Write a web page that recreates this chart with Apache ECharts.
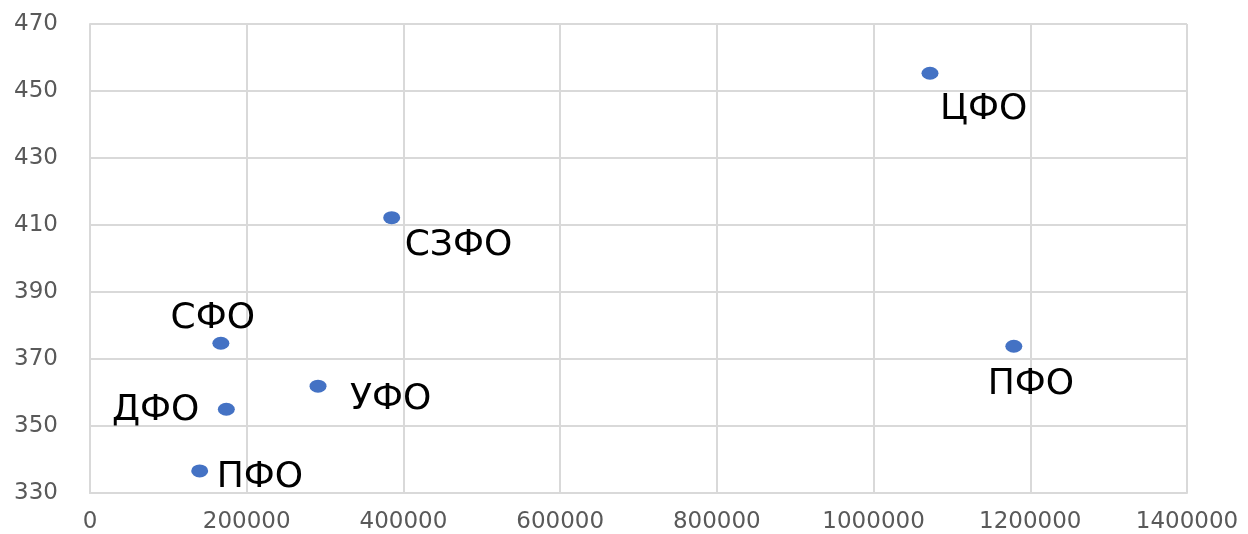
<!DOCTYPE html>
<html>
<head>
<meta charset="utf-8">
<script src="https://cdn.jsdelivr.net/npm/echarts@6/dist/echarts.min.js"></script>
<style>
html,body{margin:0;padding:0;background:#fff;}
#chart{width:1248px;height:534px;}
</style>
</head>
<body>
<div id="chart"></div>
<script>
// Data
const regionNames = ['ЦФО', 'СЗФО', 'СФО', 'ДФО', 'УФО', 'ПФО', 'ПФО'];
const xValues = [1072000, 385000, 167000, 174000, 291000, 140000, 1179000];
const yValues = [455.3, 412.2, 374.7, 355.0, 361.9, 336.6, 373.8];
const xTicks = [0, 200000, 400000, 600000, 800000, 1000000, 1200000, 1400000];
const yTicks = [330, 350, 370, 390, 410, 430, 450, 470];

// Label layout (presentation only)
const labelLayout = [
  {align: 'left', offset: [10, 36]},
  {align: 'left', offset: [13, 28]},
  {align: 'center', offset: [-8, -25]},
  {align: 'right', offset: [-27, 1]},
  {align: 'left', offset: [32, 14]},
  {align: 'left', offset: [17, 7]},
  {align: 'center', offset: [17, 38]}
];

const labelStyle = {color: '#000000', fontFamily: 'DejaVu Sans', fontSize: 36};

const points = regionNames.map((n, i) => ({
  name: n,
  value: [xValues[i], yValues[i]],
  label: Object.assign({
    show: true,
    position: 'inside',
    align: labelLayout[i].align,
    verticalAlign: 'middle',
    offset: labelLayout[i].offset,
    formatter: '{b}'
  }, labelStyle)
}));

const chart = echarts.init(document.getElementById('chart'), null, {renderer: 'canvas'});
const axisLabelStyle = {color: '#595959', fontFamily: 'DejaVu Sans', fontSize: 23};
chart.setOption({
  animation: false,
  backgroundColor: '#ffffff',
  grid: {left: 90, top: 24, right: 61, bottom: 40, containLabel: false},
  xAxis: {
    type: 'value',
    min: xTicks[0], max: xTicks[xTicks.length - 1], interval: xTicks[1] - xTicks[0],
    axisLine: {show: true, lineStyle: {color: '#d9d9d9', width: 2}},
    axisTick: {show: false},
    splitLine: {show: true, lineStyle: {color: '#d9d9d9', width: 2}},
    axisLabel: Object.assign({margin: 18, showMinLabel: true, showMaxLabel: true,
      formatter: v => String(v)}, axisLabelStyle)
  },
  yAxis: {
    type: 'value',
    min: yTicks[0], max: yTicks[yTicks.length - 1], interval: yTicks[1] - yTicks[0],
    axisLine: {show: true, lineStyle: {color: '#d9d9d9', width: 2}},
    axisTick: {show: false},
    splitLine: {show: true, lineStyle: {color: '#d9d9d9', width: 2}},
    axisLabel: Object.assign({margin: 32, formatter: v => String(v)}, axisLabelStyle)
  },
  series: [{
    type: 'scatter',
    symbol: 'circle',
    symbolSize: [17, 13],
    itemStyle: {color: '#4472C4', opacity: 1},
    data: points
  }]
});
</script>
</body>
</html>
